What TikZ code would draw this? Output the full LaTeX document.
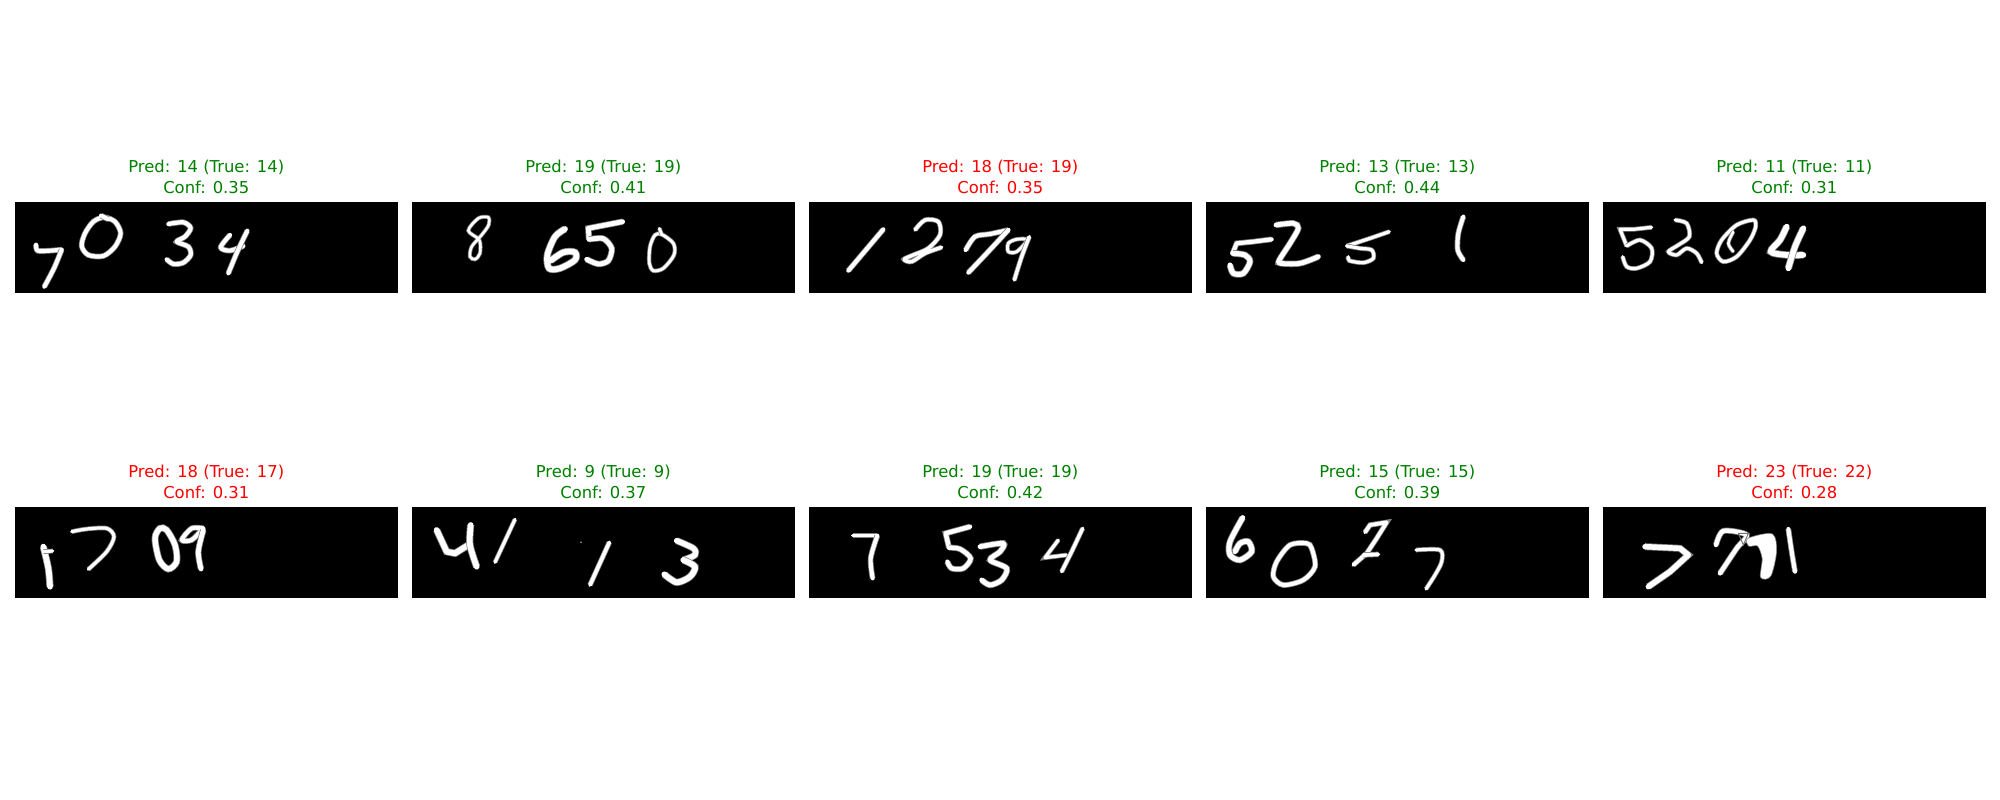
\documentclass[tikz,border=0pt]{standalone}
\usepackage{fontspec}
\setmainfont{DejaVu Sans}
\usetikzlibrary{positioning}
\definecolor{okgreen}{RGB}{0,128,0}
\definecolor{badred}{RGB}{255,0,0}
\tikzset{
	panel/.style={fill=black, inner sep=0pt, minimum width=9.718cm, minimum height=2.3114cm},
	caption/.style={align=center, inner sep=0pt, font=\fontsize{11.8bp}{15bp}\selectfont},
	dig/.style={draw=white, line width=1.15*#1, line cap=round, line join=round,
		preaction={draw=black!50!white, line width=1.15*#1+1.1pt}},
	dig/.default=2.6bp,
	crop/.style 2 args={shift={(#1,#2)}, x=0.008467cm, y=-0.008467cm}
}
\begin{document}
\begin{tikzpicture}[x=0.0254cm, y=-0.0254cm]
	\useasboundingbox (0, 0) rectangle (2000, 800);
	
	\foreach \n/\px/\py/\pred/\true/\conf/\col in {
		1/206.3/247.5/14/14/0.35/okgreen, 2/603.3/247.5/19/19/0.41/okgreen, 3/1000.3/247.5/18/19/0.35/badred,
		4/1397.3/247.5/13/13/0.44/okgreen, 5/1794.3/247.5/11/11/0.31/okgreen,
		6/206.3/552.5/18/17/0.31/badred, 7/603.3/552.5/9/9/0.37/okgreen, 8/1000.3/552.5/19/19/0.42/okgreen,
		9/1397.3/552.5/15/15/0.39/okgreen, 10/1794.3/552.5/23/22/0.28/badred} {
		\node [panel] (panel\n) at (\px, \py) {};
		\node [caption, text=\col, above=0.2cm of panel\n] (title\n) {Pred: \pred\ (True: \true)\\Conf: \conf};
	}
	
	\begin{scope}[crop={0}{140}] % 7 0 3 4
		\draw [dig] plot [smooth] coordinates {(108,314) (113,332) (150,332) (185,329)};
		\draw [dig] plot [smooth] coordinates {(185,329) (162,385) (133,440)};
		\draw [dig] plot [smooth cycle] coordinates {(312,232) (345,245) (362,280) (345,320) (310,348) (265,345) (245,318) (255,280) (280,245)};
		\draw [dig] (303,227) -- (325,238);
		\draw [dig] plot [smooth] coordinates {(505,252) (550,247) (572,264) (555,290) (530,305) (565,320) (572,345) (550,368) (520,372) (500,358)};
		\draw [dig] plot [smooth] coordinates {(690,285) (662,322) (690,332) (730,318)};
		\draw [dig] plot [smooth] coordinates {(742,272) (712,335) (685,400)};
	\end{scope}
	
	\begin{scope}[crop={400}{140}] % 8 6 5 0
		\draw [dig=1.6bp] plot [smooth cycle] coordinates {(265,232) (235,235) (205,272) (238,300) (240,340) (225,358) (210,350) (215,320) (245,285) (266,255)};
		\draw [dig=3.6bp] plot [smooth] coordinates {(495,267) (465,290) (442,345) (447,385) (480,385) (525,360) (525,337) (490,337) (452,362)};
		\draw [dig=3bp] (668,245) -- (565,265) -- (567,298);
		\draw [dig=3bp] plot [smooth] coordinates {(567,298) (610,296) (635,325) (625,362) (595,372) (560,358)};
		\draw [dig=1.8bp] plot [smooth cycle] coordinates {(785,283) (820,310) (822,345) (790,385) (760,392) (748,370) (750,320) (765,285)};
		\draw [dig=1.8bp] (778,265) -- (785,283);
	\end{scope}
	
	\begin{scope}[crop={800}{140}] % 1 2 7 9
		\draw [dig] (250,268) -- (145,392);
		\draw [dig=2.2bp] plot [smooth] coordinates {(345,270) (375,240) (415,245) (420,285) (385,325) (340,345) (312,358) (335,365) (375,340) (425,322)};
		\draw [dig=2.6bp] plot [smooth] coordinates {(497,330) (525,290) (570,282) (625,270)};
		\draw [dig=2.6bp] plot [smooth] coordinates {(625,270) (560,340) (505,398)};
		\draw [dig=1.8bp] plot [smooth cycle] coordinates {(650,298) (625,310) (625,335) (650,335) (682,300)};
		\draw [dig=2.2bp] plot [smooth] coordinates {(688,290) (665,350) (643,420)};
	\end{scope}
	
	\begin{scope}[crop={1190}{140}] % 5 2 5 1
		\draw [dig] (245,298) -- (190,305) -- (140,310) -- (128,340);
		\draw [dig=3.2bp] plot [smooth] coordinates {(128,340) (165,345) (180,365) (160,400) (130,400) (120,375)};
		\draw [dig=3bp] plot [smooth] coordinates {(258,255) (310,250) (325,265) (300,310) (268,360) (272,370) (330,370) (385,350)};
		\draw [dig=2bp] (598,275) -- (540,295) -- (470,318);
		\draw [dig=2bp] plot [smooth] coordinates {(470,318) (510,325) (545,330) (550,355) (520,368) (478,362) (475,350)};
		\draw [dig] plot [smooth] coordinates {(820,230) (805,280) (803,330) (820,360)};
	\end{scope}
	
	\begin{scope}[crop={1590}{140}] % 5 2 0 4
		\draw [dig=2bp] (185,262) -- (130,268) -- (90,268) -- (110,318);
		\draw [dig=2bp] plot [smooth] coordinates {(110,318) (150,300) (185,325) (180,365) (140,385) (110,380) (98,350)};
		\draw [dig=2bp] plot [smooth] coordinates {(255,240) (290,250) (298,290) (265,315) (235,335) (260,345) (290,325) (320,340) (335,368)};
		\draw [dig=2bp] plot [smooth cycle] coordinates {(490,240) (440,255) (395,300) (380,340) (400,365) (440,350) (480,300) (497,260)};
		\draw [dig=1.6bp] plot [smooth] coordinates {(430,275) (415,310) (430,335)};
		\draw [dig=3.6bp] plot [smooth] coordinates {(590,260) (570,300) (542,335) (590,345) (640,345)};
		\draw [dig=3.6bp] plot [smooth] coordinates {(640,265) (615,320) (595,385)};
	\end{scope}
	
	\begin{scope}[crop={0}{445}] % 1 7 0 9
		\draw [dig=3.6bp] plot [smooth] coordinates {(130,305) (145,370) (150,425)};
		\draw [dig=2bp] (130,320) -- (158,318);
		\draw [dig=2bp] plot [smooth] coordinates {(215,260) (260,252) (320,250) (342,275) (320,320) (265,373)};
		\draw [dig=3.4bp] plot [smooth cycle] coordinates {(480,250) (465,280) (478,345) (505,372) (530,350) (525,300) (500,255)};
		\draw [dig=2.6bp] plot [smooth] coordinates {(610,250) (575,250) (545,285) (575,285) (605,255)};
		\draw [dig=3bp] plot [smooth] coordinates {(610,255) (595,320) (603,372)};
	\end{scope}
	
	\begin{scope}[crop={400}{445}] % 4 1 1 3
		\draw [dig=3.6bp] (110,255) -- (140,320) -- (165,325) -- (205,300);
		\draw [dig=3.6bp] plot [smooth] coordinates {(212,240) (210,300) (230,365)};
		\draw [dig=2bp] (345,223) -- (285,352);
		\fill [black!45!white] (543,292) circle [radius=3];
		\draw [dig=2.4bp] (628,292) -- (570,420);
		\draw [dig=3.4bp] plot [smooth] coordinates {(830,287) (880,310) (885,330) (850,345)};
		\draw [dig=3.6bp] plot [smooth] coordinates {(850,345) (885,365) (870,395) (830,412) (793,388)};
	\end{scope}
	
	\begin{scope}[crop={800}{445}] % 7 5 3 4
		\draw [dig=2.2bp] (158,272) -- (232,272);
		\draw [dig=2.6bp] plot [smooth] coordinates {(232,272) (212,340) (218,400)};
		\draw [dig=2.8bp] (510,245) -- (437,265) -- (447,308);
		\draw [dig=2.8bp] plot [smooth] coordinates {(447,308) (480,312) (512,340) (490,370) (455,370) (442,350)};
		\draw [dig=3bp] plot [smooth] coordinates {(540,305) (610,295) (600,320) (570,345) (620,370) (605,405) (570,420) (545,405)};
		\draw [dig=2bp] (775,285) -- (735,338) -- (800,330);
		\draw [dig=2.2bp] (848,250) -- (815,320) -- (785,380);
	\end{scope}
	
	\begin{scope}[crop={1190}{445}] % 6 0 2 7
		\draw [dig=3.2bp] plot [smooth] coordinates {(158,218) (120,290) (120,330) (150,345) (185,320) (175,290) (150,295) (135,320)};
		\draw [dig=2.6bp] plot [smooth cycle] coordinates {(350,295) (300,300) (260,350) (250,395) (280,420) (340,405) (375,365) (365,310)};
		\draw [dig=2.4bp] (525,262) -- (540,240) -- (590,232) -- (560,280) -- (530,325) -- (490,360);
		\draw [dig=2.4bp] (520,330) -- (565,328);
		\draw [dig=2bp] plot [smooth] coordinates {(678,315) (750,315) (755,350) (735,390) (708,432)};
	\end{scope}
	
	\begin{scope}[crop={1590}{445}] % 7 7 9 1
		\draw [dig=3.4bp] (165,305) -- (270,310) -- (295,330) -- (240,380) -- (175,425);
		\draw [dig=2.8bp] plot [smooth] coordinates {(378,300) (400,258) (470,270) (440,310) (390,385)};
		\draw [dig=1bp, fill=white] plot [smooth cycle] coordinates {(478,282) (545,270) (556,320) (540,390) (515,395) (520,340) (505,300) (478,300)};
		\draw [dig=2.6bp] plot [smooth] coordinates {(595,252) (605,320) (615,380)};
		\draw [black!55!white, line width=0.7bp] (445,265) -- (475,265) -- (460,300) -- cycle; % small gap between the strokes
	\end{scope}
\end{tikzpicture}
\end{document}
